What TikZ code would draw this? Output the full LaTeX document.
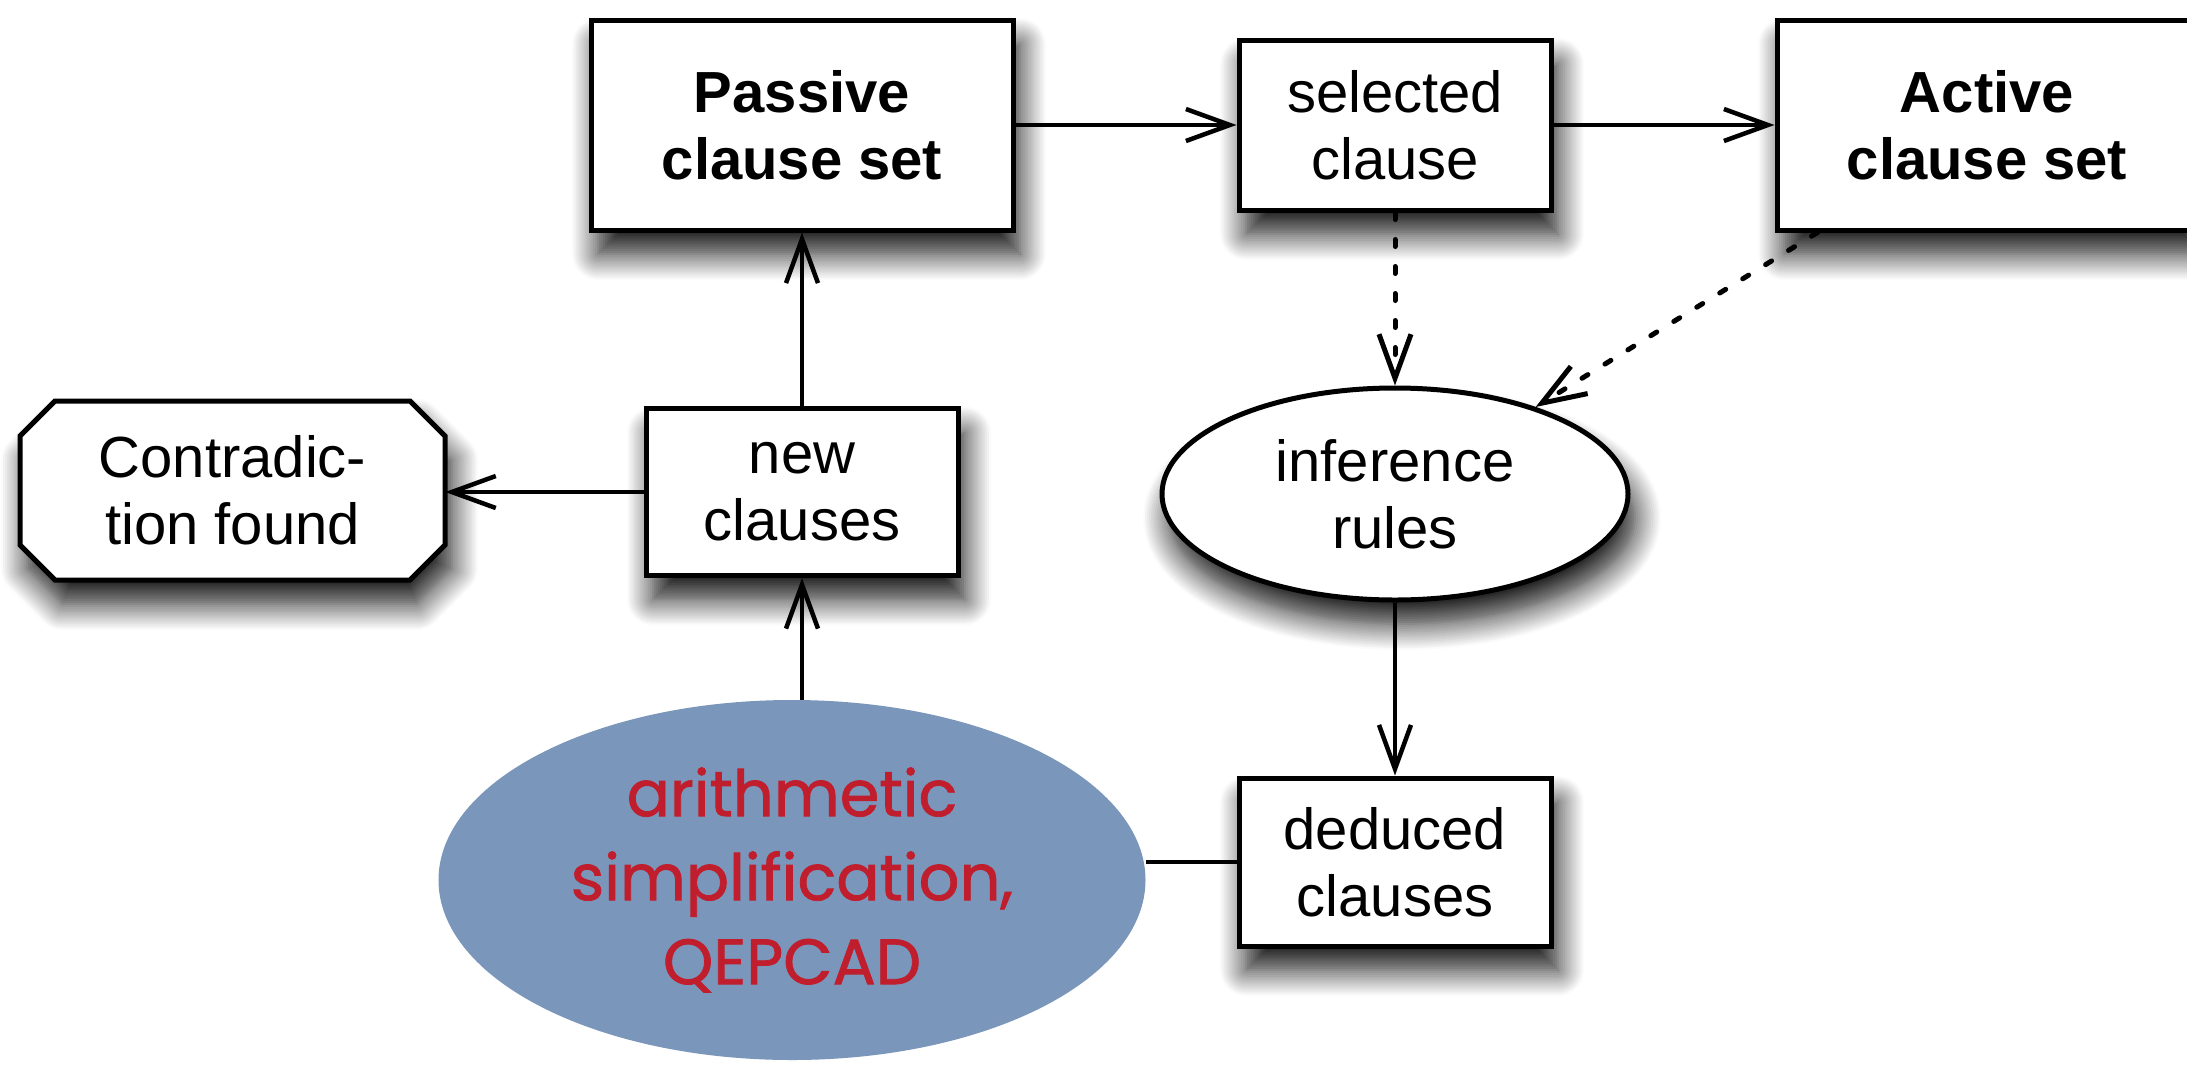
\documentclass[tikz,border=0pt]{standalone}
\usepackage{fontspec}
\setmainfont{Liberation Sans}
\newfontfamily\handfont[FakeBold=1.2]{Poppins}
\usetikzlibrary{arrows.meta,shapes.geometric,shadows.blur,calc}
\definecolor{arithblue}{HTML}{7A96BB}
\definecolor{arithred}{HTML}{C01E2D}
\begin{document}
\begin{tikzpicture}[x=1pt,y=1pt,
  shadowed/.style={blur shadow={shadow xshift=7pt, shadow yshift=-24pt, shadow blur radius=26pt, shadow opacity=92, shadow blur steps=14}},
  boxtext/.style={align=center, font=\fontsize{58}{67}\selectfont},
  stepbox/.style={draw, line width=5pt, fill=white, shadowed, rectangle, boxtext, inner sep=0pt},
  boldbox/.style={stepbox, font=\fontsize{58}{67}\selectfont\bfseries},
  octline/.style={draw, line width=5pt, fill=white, shadowed, line join=miter},
  octtext/.style={rectangle, boxtext, inner sep=0pt},
  ellbox/.style={draw, line width=5pt, fill=white, shadowed, ellipse, boxtext, inner sep=0pt},
  arithbox/.style={ellipse, fill=arithblue, align=center, text=arithred, font=\handfont\fontsize{64}{84}\selectfont, inner sep=0pt},
  conn/.style={line width=4.5pt, -{Straight Barb[length=44pt,width=32pt]}},
  plainconn/.style={line width=4.5pt},
  dotconn/.style={conn, line width=5pt, dash pattern=on 7pt off 20pt, line cap=round}
]
\useasboundingbox (0,0) rectangle (2187,-1066);

\node[boldbox, minimum width=422pt, minimum height=210pt] (passive) at (802,-125) {Passive\\clause set};
\node[stepbox, minimum width=312pt, minimum height=170pt] (selected) at (1395,-125) {selected\\clause};
\node[boldbox, minimum width=420pt, minimum height=210pt] (active) at (1987,-125) {Active\\clause set};
\node[stepbox, minimum width=312pt, minimum height=167pt] (new) at (802,-492) {new\\clauses};

% octagon outline of the "Contradiction found" node
\coordinate (octnw) at (20,-401);
\coordinate (octse) at (445,-580);
\draw[octline] ($(octnw)+(35,0)$) -- ($(octse|-octnw)+(-35,0)$) -- ($(octse|-octnw)+(0,-35)$)
  -- ($(octse)+(0,35)$) -- ($(octse)+(-35,0)$) -- ($(octnw|-octse)+(35,0)$)
  -- ($(octnw|-octse)+(0,35)$) -- ($(octnw)+(0,-35)$) -- cycle;
\node[octtext, minimum width=425pt, minimum height=179pt] (contra) at ($(octnw)!0.5!(octse)$) {Contradic-\\tion found};

\node[ellbox, minimum width=466pt, minimum height=212pt] (infer) at (1395,-494) {inference\\rules};
\node[stepbox, minimum width=312pt, minimum height=168pt] (deduced) at (1395,-862) {deduced\\clauses};
\node[arithbox, minimum width=707pt, minimum height=360pt] (arith) at (792,-880) {arithmetic\\simplification,\\QEPCAD};

\coordinate (activefoot) at ($(active.south west)+(43,0)$);

\draw[conn] (passive.east) -- (selected.west);
\draw[conn] (selected.east) -- (active.west);
\draw[dotconn] (selected.south) -- (infer.north);
\draw[dotconn] (activefoot) -- (infer);
\draw[conn] (infer.south) -- (deduced.north);
\draw[plainconn] (deduced.west) -- (arith.east |- deduced.west);
\draw[conn] (arith.north -| new.south) -- (new.south);
\draw[conn] (new.north) -- (passive.south);
\draw[conn] (new.west) -- (new.west -| contra.east);
\end{tikzpicture}
\end{document}
